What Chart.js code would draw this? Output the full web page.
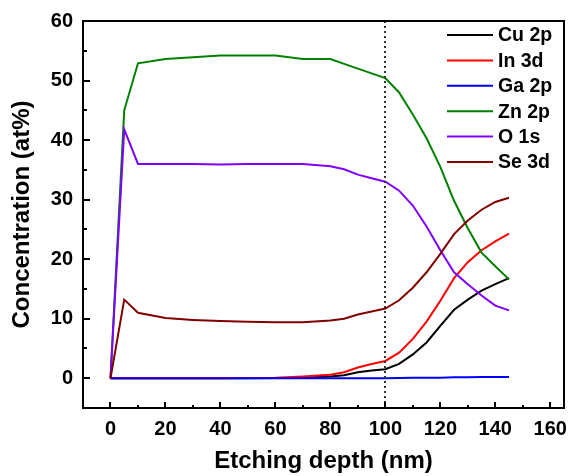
<!DOCTYPE html>
<html>
<head>
<meta charset="utf-8">
<script src="https://cdn.jsdelivr.net/npm/chart.js@4.4.1/dist/chart.umd.min.js"></script>
<style>
  html, body { margin: 0; padding: 0; background: #fff; }
  #wrap { width: 569px; height: 476px; }
</style>
</head>
<body>
<div id="wrap"><canvas id="c" width="569" height="476"></canvas></div>
<script>
const depth = [0,5,10,20,30,40,50,60,70,80,85,90,95,100,105,110,115,120,125,130,135,140,145];
const cu2p = [0,0,0,0,0,0,0,0.05,0.1,0.3,0.5,1.0,1.3,1.5,2.4,4.0,6.0,8.8,11.5,13.2,14.7,15.8,16.8];
const in3d = [0,0,0,0,0,0,0.05,0.1,0.3,0.6,1.0,1.8,2.4,2.9,4.3,6.6,9.5,13.0,16.8,19.5,21.5,23.0,24.3];
const ga2p = [0,0,0,0,0,0,0,0,0,0,0,0,0,0,0.05,0.1,0.1,0.1,0.15,0.15,0.2,0.2,0.2];
const zn2p = [0,45,52.9,53.6,53.9,54.2,54.2,54.2,53.6,53.6,52.8,52.0,51.2,50.4,48.0,44.3,40.3,35.5,29.8,25.2,21.1,18.8,16.6];
const o1s  = [0,41.8,36,36,36,35.9,36,36,36,35.6,35.1,34.2,33.6,33.0,31.5,29.0,25.5,21.5,17.8,15.8,13.9,12.2,11.4];
const se3d = [0,13.2,11.0,10.1,9.8,9.6,9.5,9.4,9.4,9.7,10.0,10.7,11.2,11.7,13.1,15.2,17.8,20.9,24.2,26.5,28.3,29.6,30.3];

const seriesNames = ['Cu 2p','In 3d','Ga 2p','Zn 2p','O 1s','Se 3d'];
const seriesValues = [cu2p, in3d, ga2p, zn2p, o1s, se3d];
const seriesColors = ['#000000','#ff0000','#0000ff','#008000','#8000ff','#800000'];

const xTickValues = [0,20,40,60,80,100,120,140,160];
const xMinorValues = [10,30,50,70,90,110,130,150];
const yTickValues = [0,10,20,30,40,50,60];
const yMinorValues = [5,15,25,35,45,55];
const markerDepth = 100;

const FONT = "'Liberation Sans', Arial, sans-serif";

const datasets = seriesNames.map((name, i) => ({
  label: name,
  data: depth.map((d, j) => ({x: d, y: seriesValues[i][j]})),
  borderColor: seriesColors[i],
  backgroundColor: seriesColors[i],
  borderWidth: 2,
  pointRadius: 0,
  tension: 0,
  fill: false,
  order: seriesNames.length - i
}));

const framePlugin = {
  id: 'frame',
  afterDatasetsDraw(chart) {
    const ctx = chart.ctx;
    const a = chart.chartArea;
    const xs = chart.scales.x, ys = chart.scales.y;
    ctx.save();
    // dotted marker line
    ctx.strokeStyle = '#333';
    ctx.lineWidth = 2;
    ctx.setLineDash([2, 3]);
    const mx = Math.round(xs.getPixelForValue(markerDepth));
    ctx.beginPath();
    ctx.moveTo(mx, a.top);
    ctx.lineTo(mx, a.bottom);
    ctx.stroke();
    ctx.setLineDash([]);
    // frame
    ctx.strokeStyle = '#000';
    ctx.lineWidth = 2;
    ctx.strokeRect(a.left, a.top, a.right - a.left, a.bottom - a.top);
    // inward ticks
    ctx.lineWidth = 2;
    ctx.beginPath();
    xTickValues.forEach(v => { const p = Math.round(xs.getPixelForValue(v)); ctx.moveTo(p, a.bottom); ctx.lineTo(p, a.bottom - 6); });
    xMinorValues.forEach(v => { const p = Math.round(xs.getPixelForValue(v)); ctx.moveTo(p, a.bottom); ctx.lineTo(p, a.bottom - 3); });
    yTickValues.forEach(v => { const p = Math.round(ys.getPixelForValue(v)); ctx.moveTo(a.left, p); ctx.lineTo(a.left + 7, p); });
    yMinorValues.forEach(v => { const p = Math.round(ys.getPixelForValue(v)); ctx.moveTo(a.left, p); ctx.lineTo(a.left + 4, p); });
    ctx.stroke();
    // legend
    ctx.font = "bold 19.5px " + FONT;
    ctx.textBaseline = 'middle';
    ctx.textAlign = 'left';
    chart.data.datasets.forEach((ds, i) => {
      const y = 35 + i * 25.4;
      ctx.strokeStyle = ds.borderColor;
      ctx.lineWidth = 2;
      ctx.beginPath();
      ctx.moveTo(447, y);
      ctx.lineTo(493, y);
      ctx.stroke();
      ctx.fillStyle = '#000';
      ctx.fillText(ds.label, 498, y + 1);
    });
    ctx.restore();
  }
};

new Chart(document.getElementById('c'), {
  type: 'line',
  data: { datasets },
  plugins: [framePlugin],
  options: {
    responsive: false,
    animation: false,
    devicePixelRatio: 1,
    layout: { padding: { top: 21, right: 5, left: 0, bottom: 0 } },
    plugins: { legend: { display: false }, tooltip: { enabled: false } },
    scales: {
      x: {
        type: 'linear',
        min: -10, max: 165,
        grid: { display: false, drawTicks: false },
        border: { display: false },
        afterBuildTicks: s => { s.ticks = xTickValues.map(v => ({value: v})); },
        afterFit: s => { s.height = 68; s.paddingLeft = 0; s.paddingRight = 0; },
        ticks: { autoSkip: false, maxRotation: 0, padding: 9, color: '#000', font: { family: FONT, size: 20, weight: 'bold' } },
        title: { display: true, text: 'Etching depth (nm)', color: '#000', padding: { top: 0, bottom: 0 }, font: { family: FONT, size: 24, weight: 'bold' } }
      },
      y: {
        type: 'linear',
        min: -5, max: 60,
        grid: { display: false, drawTicks: false },
        border: { display: false },
        afterBuildTicks: s => { s.ticks = yTickValues.map(v => ({value: v})); },
        afterFit: s => { s.width = 83; s.paddingTop = 0; s.paddingBottom = 0; },
        ticks: { autoSkip: false, padding: 10, color: '#000', font: { family: FONT, size: 20, weight: 'bold' } },
        title: { display: true, text: 'Concentration (at%)', color: '#000', padding: { top: 8, bottom: 0 }, font: { family: FONT, size: 24, weight: 'bold' } }
      }
    }
  }
});
</script>
</body>
</html>
